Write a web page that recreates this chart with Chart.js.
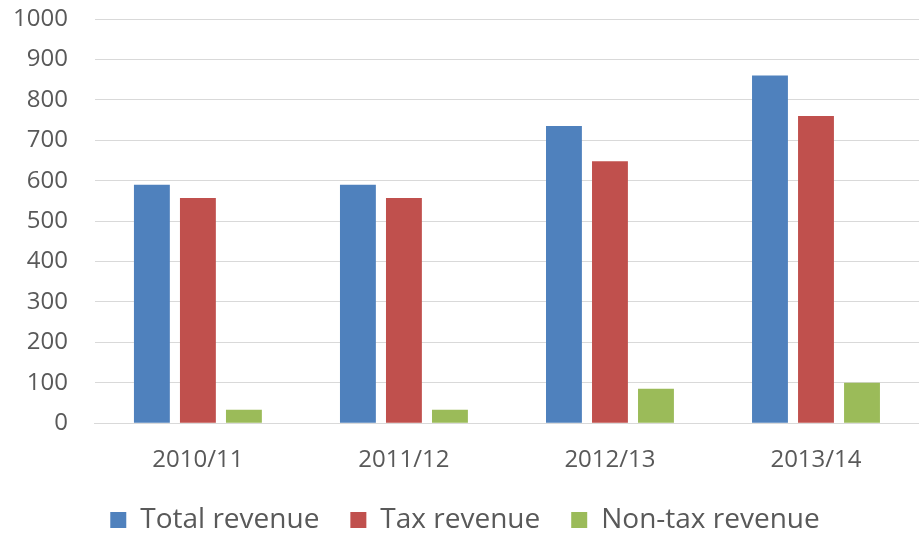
<!DOCTYPE html>
<html>
<head>
<meta charset="utf-8">
<script src="https://cdn.jsdelivr.net/npm/chart.js@4/dist/chart.umd.min.js"></script>
<style>
  html, body { margin: 0; padding: 0; background: #fff; }
  #wrap { width: 919px; height: 535px; }
</style>
</head>
<body>
<div id="wrap"><canvas id="chart"></canvas></div>
<script>
const years = ['2010/11', '2011/12', '2012/13', '2013/14'];
const totalRevenue = [590, 590, 735, 860];
const taxRevenue = [557, 557, 648, 760];
const nonTaxRevenue = [33, 33, 85, 100];

document.addEventListener('DOMContentLoaded', () => {
    const font = '"Open Sans", sans-serif';

    new Chart(document.getElementById('chart'), {
        type: 'bar',
        data: {
            labels: years,
            datasets: [
                { label: 'Total revenue', data: totalRevenue, backgroundColor: '#4f81bd' },
                { label: 'Tax revenue', data: taxRevenue, backgroundColor: '#c0504d' },
                { label: 'Non-tax revenue', data: nonTaxRevenue, backgroundColor: '#9bbb59' }
            ]
        },
        options: {
            responsive: true,
            maintainAspectRatio: false,
            animation: false,
            categoryPercentage: 0.67,
            barPercentage: 0.78,
            layout: { padding: { top: 19, right: 0, left: 11, bottom: -9 } },
            plugins: {
                tooltip: { enabled: false },
                legend: {
                    position: 'bottom',
                    labels: {
                        font: { family: font, size: 28 },
                        color: '#595959',
                        boxWidth: 16,
                        boxHeight: 16,
                        padding: 31
                    }
                }
            },
            scales: {
                x: {
                    // invisible tick marks give the gap under the axis
                    grid: { drawOnChartArea: false, drawTicks: true, tickLength: 23, tickColor: 'transparent' },
                    border: { color: '#d9d9d9' },
                    ticks: {
                        font: { family: font, size: 24 },
                        color: '#595959',
                        padding: 0
                    }
                },
                y: {
                    min: 0,
                    max: 1000,
                    grid: { color: '#d9d9d9', drawTicks: true, tickLength: 25, tickColor: 'transparent' },
                    border: { display: false },
                    ticks: {
                        stepSize: 100,
                        font: { family: font, size: 24 },
                        color: '#595959',
                        padding: 2,
                        callback: v => String(v)
                    }
                }
            }
        }
    });
});
</script>
</body>
</html>
